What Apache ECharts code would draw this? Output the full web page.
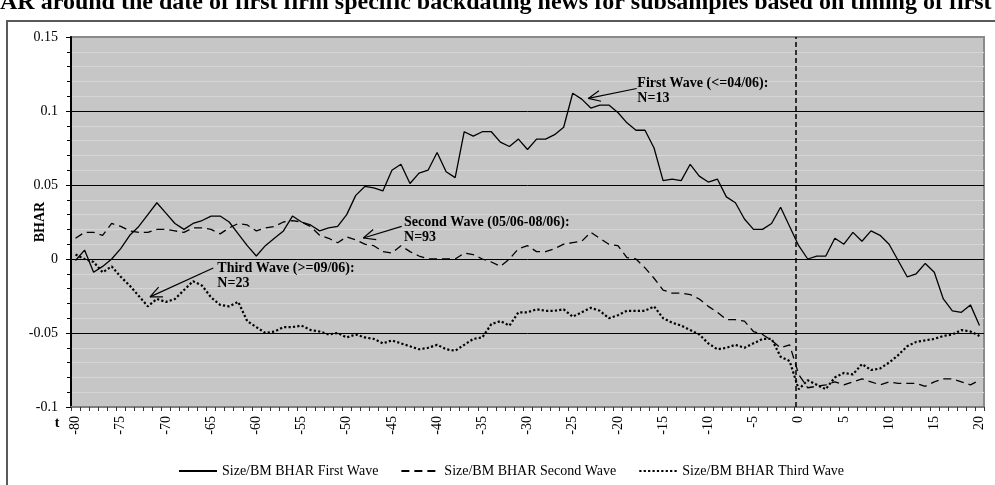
<!DOCTYPE html>
<html>
<head>
<meta charset="utf-8">
<style>
  html, body { margin: 0; padding: 0; background: #fff; }
  #chart { width: 995px; height: 485px; }
</style>
<script src="https://cdn.jsdelivr.net/npm/echarts@6/dist/echarts.min.js"></script>
</head>
<body>
<div id="chart"></div>
<script>
const tickLabels = [
  -80, -79, -78, -77, -76, -75, -74, -73, -72, -71, -70, -69, -68, -67, -66, -65, -64, -63, -62, -61,
  -60, -59, -58, -57, -56, -55, -54, -53, -52, -51, -50, -49, -48, -47, -46, -45, -44, -43, -42, -41,
  -40, -39, -38, -37, -36, -35, -34, -33, -32, -31, -30, -29, -28, -27, -26, -25, -24, -23, -22, -21,
  -20, -19, -18, -17, -16, -15, -14, -13, -12, -11, -10, -9, -8, -7, -6, -5, -4, -3, -2, -1,
  0, 1, 2, 3, 4, 5, 6, 7, 8, 9, 10, 11, 12, 13, 14, 15, 16, 17, 18, 19, 20
];

const firstWave = [
  -0.001, 0.006, -0.009, -0.005, 0.000, 0.007, 0.016, 0.022, 0.030, 0.038,
  0.031, 0.024, 0.020, 0.024, 0.026, 0.029, 0.029, 0.025, 0.017, 0.009,
  0.002, 0.009, 0.014, 0.019, 0.029, 0.025, 0.023, 0.019, 0.021, 0.022,
  0.030, 0.043, 0.049, 0.048, 0.046, 0.060, 0.064, 0.051, 0.058, 0.060,
  0.072, 0.059, 0.055, 0.086, 0.083, 0.086, 0.086, 0.079, 0.076, 0.081,
  0.074, 0.081, 0.081, 0.084, 0.089, 0.112, 0.108, 0.102, 0.104, 0.104,
  0.099, 0.092, 0.087, 0.087, 0.075, 0.053, 0.054, 0.053, 0.064, 0.056,
  0.052, 0.054, 0.042, 0.038, 0.027, 0.020, 0.020, 0.024, 0.035, 0.022,
  0.009, 0.000, 0.002, 0.002, 0.014, 0.010, 0.018, 0.012, 0.019, 0.016,
  0.010, -0.001, -0.012, -0.010, -0.003, -0.009, -0.027, -0.035, -0.036, -0.031,
  -0.045
];

const secondWave = [
  0.014, 0.018, 0.018, 0.016, 0.024, 0.022, 0.019, 0.018, 0.018, 0.020,
  0.020, 0.019, 0.018, 0.021, 0.021, 0.020, 0.017, 0.021, 0.024, 0.023,
  0.019, 0.021, 0.022, 0.025, 0.026, 0.025, 0.022, 0.016, 0.014, 0.011,
  0.015, 0.013, 0.010, 0.009, 0.005, 0.004, 0.009, 0.005, 0.002, 0.000,
  0.000, 0.000, 0.000, 0.004, 0.003, 0.000, -0.002, -0.005, 0.000, 0.007,
  0.009, 0.005, 0.005, 0.007, 0.010, 0.011, 0.012, 0.018, 0.014, 0.010,
  0.009, 0.001, 0.000, -0.006, -0.013, -0.021, -0.023, -0.023, -0.024, -0.027,
  -0.032, -0.036, -0.041, -0.041, -0.042, -0.049, -0.051, -0.055, -0.060, -0.058,
  -0.078, -0.087, -0.086, -0.085, -0.083, -0.085, -0.083, -0.081, -0.083, -0.085,
  -0.083, -0.084, -0.084, -0.084, -0.086, -0.083, -0.081, -0.081, -0.083, -0.085,
  -0.082
];

const thirdWave = [
  0.003, 0.000, -0.002, -0.009, -0.005, -0.012, -0.018, -0.025, -0.032, -0.027,
  -0.029, -0.027, -0.021, -0.015, -0.018, -0.026, -0.031, -0.032, -0.029, -0.042,
  -0.046, -0.050, -0.049, -0.046, -0.046, -0.045, -0.048, -0.049, -0.051, -0.050,
  -0.053, -0.051, -0.053, -0.054, -0.057, -0.055, -0.057, -0.059, -0.061, -0.060,
  -0.058, -0.061, -0.062, -0.058, -0.054, -0.053, -0.044, -0.042, -0.045, -0.036,
  -0.036, -0.034, -0.035, -0.035, -0.034, -0.039, -0.036, -0.033, -0.035, -0.040,
  -0.038, -0.035, -0.035, -0.035, -0.032, -0.040, -0.043, -0.045, -0.048, -0.051,
  -0.057, -0.061, -0.060, -0.058, -0.060, -0.057, -0.054, -0.054, -0.066, -0.069,
  -0.088, -0.082, -0.085, -0.088, -0.080, -0.077, -0.078, -0.071, -0.075, -0.074,
  -0.070, -0.065, -0.059, -0.056, -0.055, -0.054, -0.052, -0.051, -0.048, -0.049,
  -0.052
];

const seriesNames = ['Size/BM BHAR First Wave', 'Size/BM BHAR Second Wave', 'Size/BM BHAR Third Wave'];
const eventDay = -0.3;

// callouts, in data units (t, BHAR)
const notes = [
  { text: 'First Wave (<=04/06):\nN=13', head: [-23.27, 0.1085], tail: [-17.92, 0.1152], label: [-17.85, 0.1186] },
  { text: 'Second Wave (05/06-08/06):\nN=93', head: [-48.16, 0.0142], tail: [-43.92, 0.0220], label: [-43.66, 0.0247] },
  { text: 'Third Wave (>=09/06):\nN=23', head: [-71.76, -0.0256], tail: [-64.76, -0.0061], label: [-64.31, -0.0067] }
];

const serif = '"Liberation Serif", "Times New Roman", serif';

const chart = echarts.init(document.getElementById('chart'), null, { renderer: 'canvas' });

const lineSeries = (name, data, type, width) => ({
  name,
  type: 'line',
  data,
  symbol: 'none',
  showSymbol: false,
  silent: true,
  animation: false,
  lineStyle: { color: '#000', width, type },
  itemStyle: { color: '#000' }
});

const baseGraphics = [
  {
    type: 'rect', silent: true,
    shape: { x: 7, y: 21, width: 1000, height: 480 },
    style: { fill: 'none', stroke: '#5a5a5a', lineWidth: 2 }
  },
  {
    type: 'text', silent: true, x: 0, y: 15,
    style: {
      text: 'AR around the date of first firm specific backdating news for subsamples based on timing of first',
      font: 'bold 24px ' + serif, fill: '#000', verticalAlign: 'bottom'
    }
  },
  {
    type: 'text', silent: true, x: 57, y: 423,
    style: { text: 't', font: 'bold 14px ' + serif, fill: '#000', align: 'center', verticalAlign: 'middle' }
  }
];

chart.setOption({
  animation: false,
  backgroundColor: '#fff',
  grid: {
    left: 71, top: 37, width: 913, height: 370,
    containLabel: false, outerBoundsMode: 'none',
    show: true, backgroundColor: '#c6c6c6', borderColor: '#8a8a8a', borderWidth: 2
  },
  legend: {
    left: 173, top: 459,
    itemWidth: 38, itemHeight: 10, itemGap: 22,
    itemStyle: { opacity: 0 },
    textStyle: { fontFamily: serif, fontSize: 14, color: '#000' },
    data: seriesNames
  },
  xAxis: [{
    type: 'category',
    data: tickLabels,
    boundaryGap: true,
    axisLine: { onZero: false, lineStyle: { color: '#7f7f7f', width: 2 } },
    axisTick: { show: true, interval: 0, length: 4, lineStyle: { color: '#333' } },
    axisLabel: { interval: 4, rotate: 90, fontFamily: serif, fontSize: 14, color: '#000', margin: 9 },
    splitLine: { show: false }
  }, {
    type: 'value', min: -80.5, max: 20.5, show: false,
    axisLine: { onZero: false }
  }],
  yAxis: {
    type: 'value',
    min: -0.1, max: 0.15, interval: 0.05,
    name: 'BHAR', nameLocation: 'middle', nameGap: 24, nameRotate: 90, nameMoveOverlap: false,
    nameTextStyle: { fontFamily: serif, fontWeight: 'bold', fontSize: 14, color: '#000' },
    axisLine: { show: true, onZero: false, lineStyle: { color: '#000', width: 2 } },
    axisTick: { show: true, length: 5, lineStyle: { color: '#000' } },
    minorTick: { show: true, splitNumber: 5, length: 4, lineStyle: { color: '#000' } },
    axisLabel: { fontFamily: serif, fontSize: 14, color: '#000', margin: 13 },
    splitLine: { show: true, showMinLine: false, showMaxLine: false, lineStyle: { color: '#000', width: 1 } },
    minorSplitLine: { show: true, lineStyle: { color: '#d6d6d6', width: 1 } }
  },
  series: [
    lineSeries(seriesNames[0], firstWave, 'solid', 1.3),
    lineSeries(seriesNames[1], secondWave, [8, 5], 1.3),
    lineSeries(seriesNames[2], thirdWave, [2.2, 2.2], 2.2),
    {
      type: 'line', xAxisIndex: 1, data: [], silent: true, animation: false,
      markLine: {
        silent: true, symbol: 'none', animation: false,
        label: { show: false },
        lineStyle: { color: '#000', type: [5, 3], width: 1.5 },
        data: [{ xAxis: eventDay }]
      }
    }
  ],
  graphic: baseGraphics
});

const toPx = (pt) => chart.convertToPixel({ seriesIndex: 3 }, pt);
const noteGraphics = [];
notes.forEach((n) => {
  const h = toPx(n.head);
  const t = toPx(n.tail);
  const l = toPx(n.label);
  const stroke = { stroke: '#000', lineWidth: 1.2 };
  noteGraphics.push({ type: 'line', silent: true, z: 100, shape: { x1: t[0], y1: t[1], x2: h[0], y2: h[1] }, style: stroke });
  const ang = Math.atan2(t[1] - h[1], t[0] - h[0]);
  [-0.42, 0.42].forEach((d) => {
    noteGraphics.push({
      type: 'line', silent: true, z: 100,
      shape: { x1: h[0], y1: h[1], x2: h[0] + 13 * Math.cos(ang + d), y2: h[1] + 13 * Math.sin(ang + d) },
      style: stroke
    });
  });
  noteGraphics.push({
    type: 'text', silent: true, z: 100, x: l[0], y: l[1] - 8,
    style: { text: n.text, font: 'bold 14px ' + serif, fill: '#000', lineHeight: 15, verticalAlign: 'top' }
  });
});
chart.setOption({ graphic: baseGraphics.concat(noteGraphics) });
</script>
</body>
</html>
